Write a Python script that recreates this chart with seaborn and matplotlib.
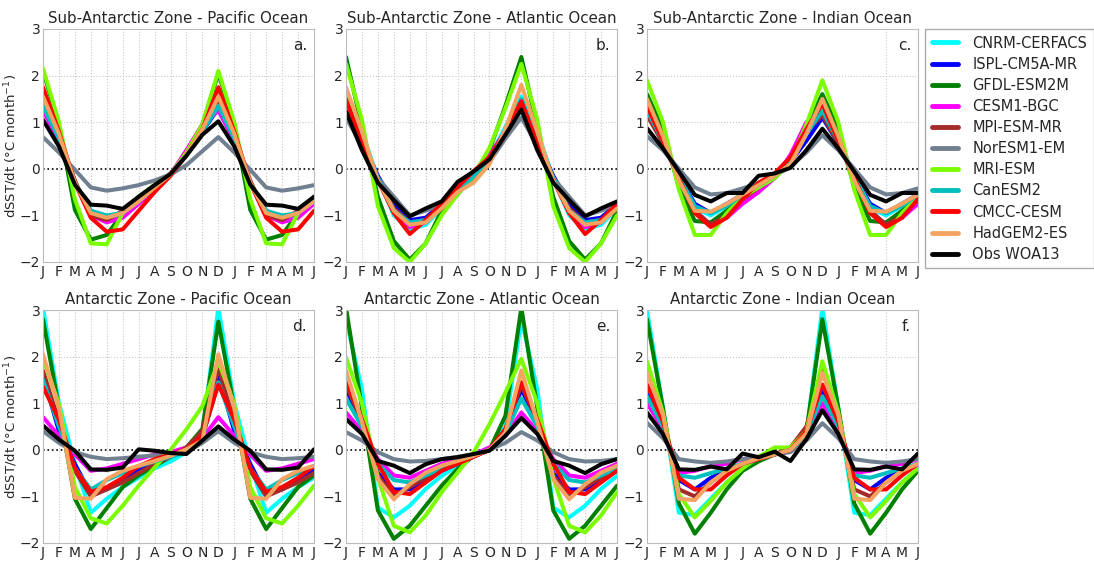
import seaborn as sns
import matplotlib.pyplot as plt
import pandas as pd
import numpy as np

sns.set_style("white")
plt.rcParams['font.family'] = ['DejaVu Sans']

meses = ["J", "F", "M", "A", "M", "J", "J", "A", "S", "O", "N", "D",
         "J", "F", "M", "A", "M", "J"]

modelos = ["CNRM-CERFACS", "ISPL-CM5A-MR", "GFDL-ESM2M", "CESM1-BGC", "MPI-ESM-MR",
           "NorESM1-EM", "MRI-ESM", "CanESM2", "CMCC-CESM", "HadGEM2-ES", "Obs WOA13"]
cores = ["cyan", "blue", "green", "magenta", "brown", "slategray",
         "lawngreen", "c", "red", "sandybrown", "black"]

titulos = ["Sub-Antarctic Zone - Pacific Ocean", "Sub-Antarctic Zone - Atlantic Ocean",
           "Sub-Antarctic Zone - Indian Ocean", "Antarctic Zone - Pacific Ocean",
           "Antarctic Zone - Atlantic Ocean", "Antarctic Zone - Indian Ocean"]
letras = ["a.", "b.", "c.", "d.", "e.", "f."]

# valores mensais J..D (o original repete F..J depois de D)
saz_pac = [
    [1.45, 0.70, -0.30, -0.95, -1.10, -0.95, -0.70, -0.45, -0.15, 0.35, 0.85, 1.40],
    [1.30, 0.65, -0.30, -0.90, -1.05, -0.95, -0.60, -0.35, -0.12, 0.30, 0.80, 1.30],
    [2.10, 0.95, -0.88, -1.52, -1.42, -0.95, -0.60, -0.35, -0.12, 0.35, 0.95, 2.05],
    [1.25, 0.60, -0.30, -1.00, -1.15, -1.05, -0.75, -0.45, -0.12, 0.40, 0.95, 1.25],
    [1.50, 0.70, -0.25, -1.00, -1.10, -0.90, -0.65, -0.35, -0.10, 0.30, 0.85, 1.50],
    [0.68, 0.35, -0.02, -0.40, -0.47, -0.42, -0.35, -0.25, -0.12, 0.08, 0.38, 0.68],
    [2.15, 1.00, -0.65, -1.60, -1.62, -0.95, -0.60, -0.35, -0.12, 0.35, 0.95, 2.10],
    [1.35, 0.65, -0.30, -0.90, -1.00, -0.95, -0.70, -0.40, -0.12, 0.30, 0.80, 1.35],
    [1.75, 0.80, -0.30, -1.05, -1.35, -1.30, -0.90, -0.50, -0.15, 0.30, 0.85, 1.75],
    [1.55, 0.75, -0.30, -0.95, -1.05, -0.95, -0.70, -0.40, -0.12, 0.30, 0.85, 1.55],
    [1.05, 0.48, -0.34, -0.77, -0.79, -0.86, -0.60, -0.35, -0.11, 0.28, 0.73, 1.02],
]
saz_atl = [
    [1.55, 0.80, -0.20, -1.00, -1.30, -1.20, -0.85, -0.50, -0.15, 0.25, 0.90, 1.55],
    [1.40, 0.60, -0.15, -0.75, -1.10, -1.05, -0.75, -0.45, -0.10, 0.20, 0.75, 1.40],
    [2.40, 0.90, -0.60, -1.55, -1.95, -1.60, -0.90, -0.55, -0.15, 0.40, 1.35, 2.40],
    [1.45, 0.60, -0.20, -0.90, -1.25, -1.15, -0.80, -0.45, -0.10, 0.30, 0.80, 1.40],
    [1.35, 0.55, -0.20, -0.85, -1.15, -1.10, -0.80, -0.45, -0.10, 0.20, 0.75, 1.35],
    [1.10, 0.50, -0.20, -0.60, -1.00, -0.90, -0.75, -0.50, -0.20, 0.15, 0.65, 1.10],
    [2.25, 1.05, -0.80, -1.70, -2.00, -1.60, -1.00, -0.55, -0.15, 0.45, 1.30, 2.25],
    [1.45, 0.65, -0.20, -0.90, -1.15, -1.10, -0.80, -0.50, -0.15, 0.20, 0.80, 1.50],
    [1.50, 0.55, -0.25, -0.95, -1.40, -1.10, -0.75, -0.40, -0.05, 0.25, 0.80, 1.45],
    [1.75, 0.80, -0.25, -0.90, -1.20, -1.15, -0.85, -0.50, -0.30, 0.10, 0.85, 1.80],
    [1.23, 0.40, -0.30, -0.67, -1.02, -0.85, -0.70, -0.28, -0.06, 0.20, 0.73, 1.27],
]
saz_ind = [
    [1.60, 0.70, -0.20, -0.85, -1.00, -0.80, -0.60, -0.40, -0.20, 0.15, 0.80, 1.60],
    [1.25, 0.55, -0.15, -0.75, -0.95, -0.75, -0.55, -0.35, -0.15, 0.15, 0.60, 1.10],
    [1.60, 0.85, -0.40, -1.12, -1.15, -0.90, -0.60, -0.40, -0.20, 0.15, 0.90, 1.60],
    [1.20, 0.60, -0.15, -0.90, -1.20, -1.05, -0.75, -0.50, -0.20, 0.30, 1.00, 1.25],
    [1.15, 0.55, -0.20, -0.90, -1.20, -1.00, -0.65, -0.40, -0.15, 0.20, 0.80, 1.15],
    [0.70, 0.40, 0.00, -0.40, -0.55, -0.52, -0.42, -0.30, -0.15, 0.05, 0.35, 0.72],
    [1.90, 1.00, -0.45, -1.42, -1.42, -0.95, -0.60, -0.40, -0.20, 0.15, 0.95, 1.90],
    [1.25, 0.60, -0.15, -0.80, -0.95, -0.80, -0.55, -0.35, -0.15, 0.15, 0.75, 1.25],
    [1.35, 0.60, -0.20, -0.95, -1.25, -1.05, -0.65, -0.30, -0.10, 0.25, 0.85, 1.40],
    [1.50, 0.70, -0.25, -0.90, -0.92, -0.75, -0.55, -0.35, -0.15, 0.10, 0.75, 1.50],
    [0.87, 0.44, -0.06, -0.56, -0.70, -0.52, -0.52, -0.15, -0.10, 0.02, 0.40, 0.86],
]
az_pac = [
    [3.05, 1.00, -0.30, -1.35, -1.05, -0.80, -0.60, -0.40, -0.25, -0.05, 0.35, 3.05],
    [1.60, 0.40, -0.30, -0.95, -0.85, -0.65, -0.45, -0.30, -0.15, 0.00, 0.30, 1.60],
    [2.80, 0.90, -1.05, -1.70, -1.25, -0.80, -0.55, -0.35, -0.15, 0.05, 0.45, 2.75],
    [0.70, 0.30, -0.10, -0.45, -0.40, -0.30, -0.20, -0.10, -0.05, 0.05, 0.25, 0.70],
    [1.70, 0.60, -0.45, -1.00, -0.85, -0.70, -0.50, -0.30, -0.15, 0.05, 0.40, 1.75],
    [0.40, 0.15, -0.05, -0.15, -0.20, -0.18, -0.15, -0.12, -0.10, -0.05, 0.15, 0.40],
    [1.95, 0.98, -0.80, -1.47, -1.58, -1.20, -0.77, -0.38, 0.00, 0.44, 0.94, 1.90],
    [1.50, 0.50, -0.40, -0.85, -0.65, -0.50, -0.35, -0.25, -0.15, -0.05, 0.25, 1.45],
    [1.35, 0.65, -0.40, -0.90, -0.80, -0.60, -0.35, -0.20, -0.10, 0.00, 0.30, 1.40],
    [2.05, 0.90, -1.03, -1.05, -0.63, -0.45, -0.34, -0.24, -0.13, 0.01, 0.20, 2.05],
    [0.52, 0.22, -0.02, -0.42, -0.43, -0.38, 0.01, -0.02, -0.07, -0.09, 0.20, 0.50],
]
az_atl = [
    [2.80, 1.30, -1.24, -1.45, -1.20, -0.84, -0.56, -0.34, -0.13, 0.00, 0.50, 2.80],
    [1.30, 0.60, -0.50, -0.85, -0.85, -0.65, -0.45, -0.30, -0.15, 0.00, 0.35, 1.30],
    [3.05, 0.90, -1.30, -1.91, -1.63, -1.20, -0.77, -0.41, -0.13, 0.00, 0.73, 3.05],
    [0.80, 0.40, -0.20, -0.55, -0.60, -0.45, -0.30, -0.20, -0.10, 0.05, 0.30, 0.80],
    [1.40, 0.60, -0.55, -1.00, -0.80, -0.60, -0.40, -0.25, -0.12, 0.00, 0.40, 1.40],
    [0.38, 0.20, -0.05, -0.20, -0.25, -0.24, -0.20, -0.15, -0.10, 0.00, 0.15, 0.38],
    [1.98, 1.00, -0.60, -1.63, -1.77, -1.41, -0.91, -0.49, -0.06, 0.55, 1.23, 1.95],
    [1.10, 0.50, -0.30, -0.65, -0.70, -0.55, -0.40, -0.25, -0.12, 0.00, 0.35, 1.10],
    [1.50, 0.65, -0.30, -0.90, -0.95, -0.70, -0.45, -0.30, -0.15, 0.00, 0.45, 1.45],
    [1.70, 0.60, -0.63, -1.06, -0.74, -0.49, -0.34, -0.24, -0.13, 0.00, 0.37, 1.70],
    [0.66, 0.34, -0.24, -0.34, -0.50, -0.31, -0.20, -0.16, -0.09, -0.02, 0.30, 0.68],
]
az_ind = [
    [3.00, 0.90, -1.35, -1.40, -1.05, -0.70, -0.40, -0.20, -0.10, 0.00, 0.35, 3.05],
    [1.20, 0.50, -0.65, -0.85, -0.60, -0.45, -0.30, -0.20, -0.10, 0.00, 0.35, 1.25],
    [2.80, 0.90, -1.15, -1.80, -1.35, -0.85, -0.45, -0.25, -0.10, 0.05, 0.40, 2.80],
    [1.00, 0.45, -0.50, -0.45, -0.35, -0.30, -0.20, -0.15, -0.10, 0.00, 0.35, 1.00],
    [1.70, 0.70, -0.85, -1.00, -0.70, -0.45, -0.30, -0.18, -0.10, 0.05, 0.50, 1.70],
    [0.58, 0.25, -0.20, -0.25, -0.28, -0.25, -0.20, -0.15, -0.10, -0.05, 0.20, 0.57],
    [1.90, 0.80, -0.95, -1.45, -1.10, -0.70, -0.40, -0.15, 0.05, 0.05, 0.40, 1.90],
    [1.15, 0.50, -0.55, -0.60, -0.50, -0.40, -0.30, -0.20, -0.10, 0.00, 0.35, 1.15],
    [1.40, 0.60, -0.60, -0.85, -0.85, -0.55, -0.30, -0.20, -0.10, 0.00, 0.40, 1.40],
    [1.65, 0.75, -1.05, -1.08, -0.70, -0.45, -0.30, -0.18, -0.10, 0.00, 0.35, 1.65],
    [0.80, 0.34, -0.42, -0.43, -0.36, -0.42, -0.08, -0.16, -0.04, -0.24, 0.23, 0.85],
]

paineis = [saz_pac, saz_atl, saz_ind, az_pac, az_atl, az_ind]

linhas = []
for p, painel in enumerate(paineis):
    for m, serie in zip(modelos, painel):
        vals = list(serie) + list(serie[1:7])
        for i, v in enumerate(vals):
            linhas.append({"painel": p, "modelo": m, "mes": i, "dsst": v})
df = pd.DataFrame(linhas)

paleta = dict(zip(modelos, cores))

fig = plt.figure(figsize=(10.94, 5.62), dpi=100)
lefts = [43, 346, 647]
bottoms = [1 - 262 / 562, 1 - 543 / 562]
w, h = 271 / 1094, 233 / 562

for p in range(6):
    ax = fig.add_axes([lefts[p % 3] / 1094, bottoms[p // 3], w, h])
    sub = df[df.painel == p]
    sns.lineplot(data=sub, x="mes", y="dsst", hue="modelo", palette=paleta,
                 hue_order=modelos, linewidth=2.9, sort=False, legend=False, ax=ax)
    ax.axhline(0, color="black", linestyle=":", linewidth=1.2, zorder=0)
    ax.set_xlim(0, 17)
    ax.set_ylim(-2, 3)
    ax.set_xticks(range(18))
    ax.set_xticklabels(meses, fontsize=10)
    ax.set_yticks([-2, -1, 0, 1, 2, 3])
    ax.set_yticklabels(["\u22122", "\u22121", "0", "1", "2", "3"], fontsize=10)
    ax.tick_params(length=0, pad=2)
    ax.set_xlabel("")
    ax.set_ylabel("")
    for yy in [1, 2]:
        ax.axhline(yy, color="#c8c8c8", linestyle=":", linewidth=0.8, zorder=0)
    if p % 3 == 2:
        ax.axvline(15, color="#c8c8c8", linestyle=":", linewidth=0.8, zorder=0)
    else:
        for xx in range(1, 17):
            ax.axvline(xx, color="#c8c8c8", linestyle=":", linewidth=0.8, zorder=0)
    for s in ax.spines.values():
        s.set_color("#bbbbbb")
    ax.set_title(titulos[p], fontsize=10.8, pad=4)
    ax.text(0.975, 0.93, letras[p], transform=ax.transAxes, ha="right", va="center",
            fontsize=11)
    if p % 3 == 0:
        ax.set_ylabel("dSST/dt (\u00b0C month$^{-1}$)", fontsize=9.5, labelpad=0)

handles = [plt.Line2D([], [], color=c, linewidth=3.5) for c in cores]
leg = fig.legend(handles, modelos, loc="upper left", bbox_to_anchor=(925 / 1094, 1 - 29 / 562),
                 fontsize=10.5, frameon=True, fancybox=False, handlelength=1.8,
                 labelspacing=0.42, borderpad=0.45, handletextpad=1.0, borderaxespad=0)
leg.get_frame().set_edgecolor("#999999")
leg.get_frame().set_linewidth(1.0)

fig.savefig("out.png", dpi=100)
